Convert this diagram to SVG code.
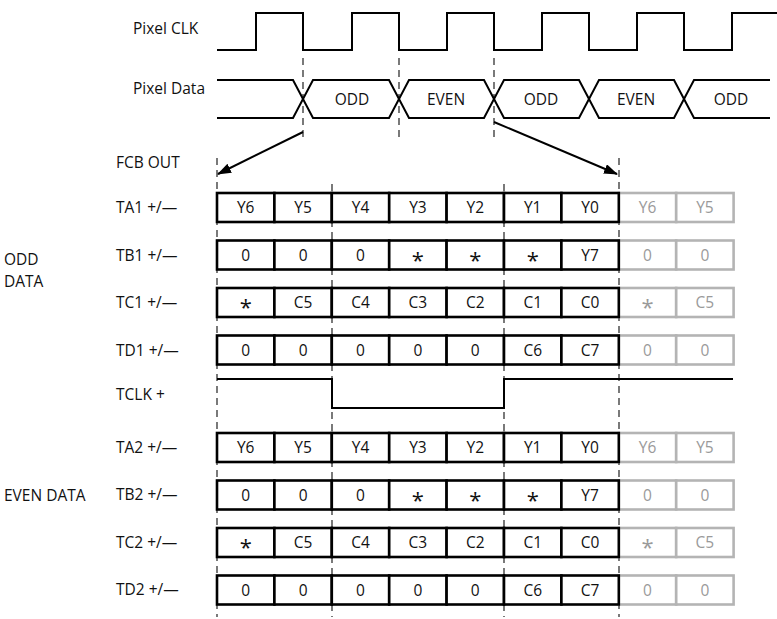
<svg xmlns="http://www.w3.org/2000/svg" width="777" height="619" viewBox="0 0 777 619">
<style>
text{font-family:"Open Sans","Noto Sans",sans-serif;font-size:15.5px;fill:#111}
.lbl{text-anchor:start}
.c{text-anchor:middle}
.s{font-size:22px}
.g{fill:#9a9a9a}
.wave{fill:none;stroke:#000;stroke-width:2}
.dash{fill:none;stroke:#222;stroke-width:1.2;stroke-dasharray:7,5}
.cb{fill:#fff;stroke:#000;stroke-width:2.6}
.cg{fill:#fff;stroke:#b4b4b4;stroke-width:2.6}
.arr{fill:none;stroke:#000;stroke-width:2}
</style>
<defs>
<marker id="ah" markerUnits="userSpaceOnUse" markerWidth="14" markerHeight="10" refX="13" refY="5" orient="auto">
<path d="M0,0 L14,5 L0,10 z" fill="#000"/>
</marker>
</defs>

<g id="labels">
<text class="lbl" x="133" y="34">Pixel CLK</text>
<text class="lbl" x="133" y="94">Pixel Data</text>
<text class="lbl" x="116" y="168">FCB OUT</text>
<text class="lbl" x="116" y="213">TA1 +/—</text>
<text class="lbl" x="116" y="261">TB1 +/—</text>
<text class="lbl" x="116" y="308">TC1 +/—</text>
<text class="lbl" x="116" y="356">TD1 +/—</text>
<text class="lbl" x="116" y="400">TCLK +</text>
<text class="lbl" x="116" y="453">TA2 +/—</text>
<text class="lbl" x="116" y="500">TB2 +/—</text>
<text class="lbl" x="116" y="548">TC2 +/—</text>
<text class="lbl" x="116" y="595">TD2 +/—</text>
<text class="lbl" x="4" y="265">ODD</text>
<text class="lbl" x="4" y="287">DATA</text>
<text class="lbl" x="4" y="501">EVEN DATA</text>
</g>

<g id="connectors">
<path class="dash" d="M303,58 V138 M399,58 V138 M494,58 V138"/>
<path class="dash" d="M217,158 V617 M619,158 V617 M332,184 V617 M504,184 V617"/>
<line class="arr" x1="303" y1="132" x2="218" y2="174" marker-end="url(#ah)"/>
<line class="arr" x1="494" y1="122" x2="617" y2="174" marker-end="url(#ah)"/>
</g>

<g id="pixel-clk">
<path class="wave" d="M217,50 H256 V13 H303 V50 H352 V13 H399 V50 H447 V13 H494 V50 H542 V13 H589 V50 H637 V13 H684 V50 H732 V13 H777"/>
</g>

<g id="pixel-data">
<path class="wave" d="M217,80 H293 L313,118 H389 L409,80 H484 L504,118 H579 L599,80 H674 L694,118 H770"/>
<path class="wave" d="M217,118 H293 L313,80 H389 L409,118 H484 L504,80 H579 L599,118 H674 L694,80 H770"/>
<text class="c" x="352" y="105">ODD</text>
<text class="c" x="446" y="105">EVEN</text>
<text class="c" x="541" y="105">ODD</text>
<text class="c" x="636" y="105">EVEN</text>
<text class="c" x="731" y="105">ODD</text>
</g>

<g id="tclk">
<path class="wave" d="M217,379 H332 V408 H504 V379 H733"/>
</g>

<g id="ta1">
<rect class="cg" x="618.8" y="193" width="57.4" height="29"/><rect class="cg" x="676.2" y="193" width="57.4" height="29"/>
<rect class="cb" x="217" y="193" width="57.4" height="29"/><rect class="cb" x="274.4" y="193" width="57.4" height="29"/><rect class="cb" x="331.8" y="193" width="57.4" height="29"/><rect class="cb" x="389.2" y="193" width="57.4" height="29"/><rect class="cb" x="446.6" y="193" width="57.4" height="29"/><rect class="cb" x="504" y="193" width="57.4" height="29"/><rect class="cb" x="561.4" y="193" width="57.4" height="29"/>
<text class="c" x="245.7" y="213">Y6</text><text class="c" x="303.1" y="213">Y5</text><text class="c" x="360.5" y="213">Y4</text><text class="c" x="417.9" y="213">Y3</text><text class="c" x="475.3" y="213">Y2</text><text class="c" x="532.7" y="213">Y1</text><text class="c" x="590.1" y="213">Y0</text>
<text class="c g" x="647.5" y="213">Y6</text><text class="c g" x="704.9" y="213">Y5</text>
</g>

<g id="tb1">
<rect class="cg" x="618.8" y="240.5" width="57.4" height="29"/><rect class="cg" x="676.2" y="240.5" width="57.4" height="29"/>
<rect class="cb" x="217" y="240.5" width="57.4" height="29"/><rect class="cb" x="274.4" y="240.5" width="57.4" height="29"/><rect class="cb" x="331.8" y="240.5" width="57.4" height="29"/><rect class="cb" x="389.2" y="240.5" width="57.4" height="29"/><rect class="cb" x="446.6" y="240.5" width="57.4" height="29"/><rect class="cb" x="504" y="240.5" width="57.4" height="29"/><rect class="cb" x="561.4" y="240.5" width="57.4" height="29"/>
<text class="c" x="245.7" y="260.5">0</text><text class="c" x="303.1" y="260.5">0</text><text class="c" x="360.5" y="260.5">0</text><text class="c s" x="417.9" y="267.5">*</text><text class="c s" x="475.3" y="267.5">*</text><text class="c s" x="532.7" y="267.5">*</text><text class="c" x="590.1" y="260.5">Y7</text>
<text class="c g" x="647.5" y="260.5">0</text><text class="c g" x="704.9" y="260.5">0</text>
</g>

<g id="tc1">
<rect class="cg" x="618.8" y="288" width="57.4" height="29"/><rect class="cg" x="676.2" y="288" width="57.4" height="29"/>
<rect class="cb" x="217" y="288" width="57.4" height="29"/><rect class="cb" x="274.4" y="288" width="57.4" height="29"/><rect class="cb" x="331.8" y="288" width="57.4" height="29"/><rect class="cb" x="389.2" y="288" width="57.4" height="29"/><rect class="cb" x="446.6" y="288" width="57.4" height="29"/><rect class="cb" x="504" y="288" width="57.4" height="29"/><rect class="cb" x="561.4" y="288" width="57.4" height="29"/>
<text class="c s" x="245.7" y="315">*</text><text class="c" x="303.1" y="308">C5</text><text class="c" x="360.5" y="308">C4</text><text class="c" x="417.9" y="308">C3</text><text class="c" x="475.3" y="308">C2</text><text class="c" x="532.7" y="308">C1</text><text class="c" x="590.1" y="308">C0</text>
<text class="c g s" x="647.5" y="315">*</text><text class="c g" x="704.9" y="308">C5</text>
</g>

<g id="td1">
<rect class="cg" x="618.8" y="335.5" width="57.4" height="29"/><rect class="cg" x="676.2" y="335.5" width="57.4" height="29"/>
<rect class="cb" x="217" y="335.5" width="57.4" height="29"/><rect class="cb" x="274.4" y="335.5" width="57.4" height="29"/><rect class="cb" x="331.8" y="335.5" width="57.4" height="29"/><rect class="cb" x="389.2" y="335.5" width="57.4" height="29"/><rect class="cb" x="446.6" y="335.5" width="57.4" height="29"/><rect class="cb" x="504" y="335.5" width="57.4" height="29"/><rect class="cb" x="561.4" y="335.5" width="57.4" height="29"/>
<text class="c" x="245.7" y="355.5">0</text><text class="c" x="303.1" y="355.5">0</text><text class="c" x="360.5" y="355.5">0</text><text class="c" x="417.9" y="355.5">0</text><text class="c" x="475.3" y="355.5">0</text><text class="c" x="532.7" y="355.5">C6</text><text class="c" x="590.1" y="355.5">C7</text>
<text class="c g" x="647.5" y="355.5">0</text><text class="c g" x="704.9" y="355.5">0</text>
</g>

<g id="ta2">
<rect class="cg" x="618.8" y="433" width="57.4" height="29"/><rect class="cg" x="676.2" y="433" width="57.4" height="29"/>
<rect class="cb" x="217" y="433" width="57.4" height="29"/><rect class="cb" x="274.4" y="433" width="57.4" height="29"/><rect class="cb" x="331.8" y="433" width="57.4" height="29"/><rect class="cb" x="389.2" y="433" width="57.4" height="29"/><rect class="cb" x="446.6" y="433" width="57.4" height="29"/><rect class="cb" x="504" y="433" width="57.4" height="29"/><rect class="cb" x="561.4" y="433" width="57.4" height="29"/>
<text class="c" x="245.7" y="453">Y6</text><text class="c" x="303.1" y="453">Y5</text><text class="c" x="360.5" y="453">Y4</text><text class="c" x="417.9" y="453">Y3</text><text class="c" x="475.3" y="453">Y2</text><text class="c" x="532.7" y="453">Y1</text><text class="c" x="590.1" y="453">Y0</text>
<text class="c g" x="647.5" y="453">Y6</text><text class="c g" x="704.9" y="453">Y5</text>
</g>

<g id="tb2">
<rect class="cg" x="618.8" y="480.5" width="57.4" height="29"/><rect class="cg" x="676.2" y="480.5" width="57.4" height="29"/>
<rect class="cb" x="217" y="480.5" width="57.4" height="29"/><rect class="cb" x="274.4" y="480.5" width="57.4" height="29"/><rect class="cb" x="331.8" y="480.5" width="57.4" height="29"/><rect class="cb" x="389.2" y="480.5" width="57.4" height="29"/><rect class="cb" x="446.6" y="480.5" width="57.4" height="29"/><rect class="cb" x="504" y="480.5" width="57.4" height="29"/><rect class="cb" x="561.4" y="480.5" width="57.4" height="29"/>
<text class="c" x="245.7" y="500.5">0</text><text class="c" x="303.1" y="500.5">0</text><text class="c" x="360.5" y="500.5">0</text><text class="c s" x="417.9" y="507.5">*</text><text class="c s" x="475.3" y="507.5">*</text><text class="c s" x="532.7" y="507.5">*</text><text class="c" x="590.1" y="500.5">Y7</text>
<text class="c g" x="647.5" y="500.5">0</text><text class="c g" x="704.9" y="500.5">0</text>
</g>

<g id="tc2">
<rect class="cg" x="618.8" y="528" width="57.4" height="29"/><rect class="cg" x="676.2" y="528" width="57.4" height="29"/>
<rect class="cb" x="217" y="528" width="57.4" height="29"/><rect class="cb" x="274.4" y="528" width="57.4" height="29"/><rect class="cb" x="331.8" y="528" width="57.4" height="29"/><rect class="cb" x="389.2" y="528" width="57.4" height="29"/><rect class="cb" x="446.6" y="528" width="57.4" height="29"/><rect class="cb" x="504" y="528" width="57.4" height="29"/><rect class="cb" x="561.4" y="528" width="57.4" height="29"/>
<text class="c s" x="245.7" y="555">*</text><text class="c" x="303.1" y="548">C5</text><text class="c" x="360.5" y="548">C4</text><text class="c" x="417.9" y="548">C3</text><text class="c" x="475.3" y="548">C2</text><text class="c" x="532.7" y="548">C1</text><text class="c" x="590.1" y="548">C0</text>
<text class="c g s" x="647.5" y="555">*</text><text class="c g" x="704.9" y="548">C5</text>
</g>

<g id="td2">
<rect class="cg" x="618.8" y="575.5" width="57.4" height="29"/><rect class="cg" x="676.2" y="575.5" width="57.4" height="29"/>
<rect class="cb" x="217" y="575.5" width="57.4" height="29"/><rect class="cb" x="274.4" y="575.5" width="57.4" height="29"/><rect class="cb" x="331.8" y="575.5" width="57.4" height="29"/><rect class="cb" x="389.2" y="575.5" width="57.4" height="29"/><rect class="cb" x="446.6" y="575.5" width="57.4" height="29"/><rect class="cb" x="504" y="575.5" width="57.4" height="29"/><rect class="cb" x="561.4" y="575.5" width="57.4" height="29"/>
<text class="c" x="245.7" y="595.5">0</text><text class="c" x="303.1" y="595.5">0</text><text class="c" x="360.5" y="595.5">0</text><text class="c" x="417.9" y="595.5">0</text><text class="c" x="475.3" y="595.5">0</text><text class="c" x="532.7" y="595.5">C6</text><text class="c" x="590.1" y="595.5">C7</text>
<text class="c g" x="647.5" y="595.5">0</text><text class="c g" x="704.9" y="595.5">0</text>
</g>
</svg>
